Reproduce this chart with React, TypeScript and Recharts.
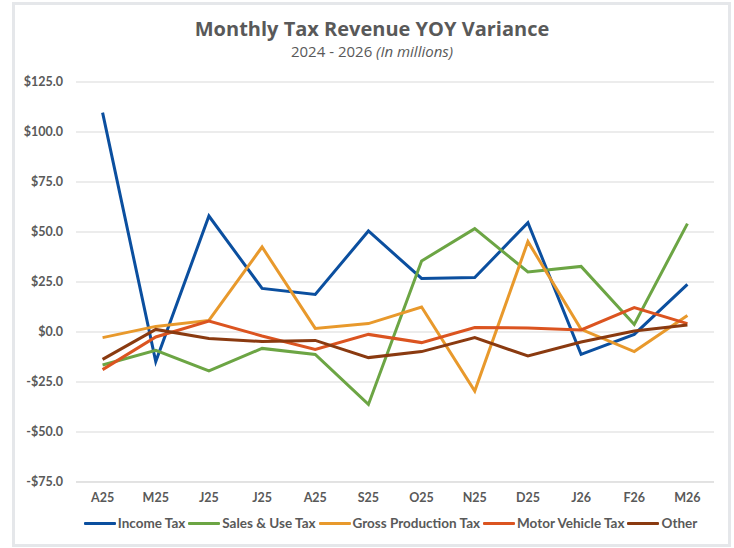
import React from "react";
import { LineChart, Line, XAxis, YAxis, CartesianGrid } from "recharts";

const months = ["A25", "M25", "J25", "J25", "A25", "S25", "O25", "N25", "D25", "J26", "F26", "M26"];
const incomeTax = [109.7, -14.8, 58.0, 21.8, 18.8, 50.5, 26.8, 27.2, 54.7, -11.2, -1.2, 23.8];
const salesUseTax = [-16.5, -9.2, -19.5, -8.2, -11.2, -36.2, 35.5, 51.7, 30.0, 32.8, 3.8, 54.2];
const grossProductionTax = [-2.8, 2.8, 5.8, 42.5, 1.8, 4.2, 12.5, -29.5, 45.2, 1.3, -9.8, 8.3];
const motorVehicleTax = [-18.8, -2.5, 5.5, -2.0, -8.7, -1.2, -5.3, 2.2, 2.0, 1.0, 12.2, 4.2];
const other = [-13.7, 1.3, -3.2, -4.8, -4.2, -12.8, -9.8, -2.8, -12.0, -5.0, 0.5, 3.5];
const yTicks = [-75, -50, -25, 0, 25, 50, 75, 100, 125];

const series = [
  { key: "income", name: "Income Tax", color: "#0b4f9f", values: incomeTax },
  { key: "sales", name: "Sales & Use Tax", color: "#6ca544", values: salesUseTax },
  { key: "gross", name: "Gross Production Tax", color: "#e8992c", values: grossProductionTax },
  { key: "motor", name: "Motor Vehicle Tax", color: "#db5420", values: motorVehicleTax },
  { key: "other", name: "Other", color: "#8a3a10", values: other },
];

const data = months.map((m, i) => {
  const row: any = { idx: i, month: m };
  series.forEach((s) => (row[s.key] = s.values[i]));
  return row;
});

const fmt = (v: number) => (v < 0 ? `-$${Math.abs(v).toFixed(1)}` : `$${v.toFixed(1)}`);

const tickFont = { fontFamily: "Lato, 'Noto Sans', sans-serif", fontSize: 12.5, fontWeight: 700, fill: "#595959" };

export default function App() {
  return (
    <div style={{ position: "absolute", left: 0, top: 0, width: 734, height: 548, background: "#fff", overflow: "hidden" }}>
      <div
        style={{
          position: "absolute",
          left: 12,
          top: 2,
          width: 713,
          height: 539,
          border: "3px solid #e5e7ea",
        }}
      />
      <div
        style={{
          position: "absolute",
          left: 0,
          top: 16,
          width: 744,
          textAlign: "center",
          fontFamily: "'Open Sans', sans-serif",
          fontWeight: 700,
          fontSize: 20,
          color: "#595959",
          lineHeight: "26px",
        }}
      >
        Monthly Tax Revenue YOY Variance
      </div>
      <div
        style={{
          position: "absolute",
          left: 0,
          top: 41,
          width: 744,
          textAlign: "center",
          fontFamily: "'Open Sans', sans-serif",
          fontSize: 15,
          color: "#595959",
          lineHeight: "20px",
        }}
      >
        2024 - 2026 <span style={{ fontStyle: "italic" }}>(In millions)</span>
      </div>
      <div style={{ position: "absolute", left: 0, top: 0 }}>
        <LineChart width={734} height={548} data={data} margin={{ top: 82, right: 20, bottom: 36, left: 0 }}>
          <CartesianGrid horizontal={true} vertical={false} stroke="#d9d9d9" strokeWidth={1} />
          <XAxis
            dataKey="idx"
            type="category"
            scale="band"
            tickFormatter={(i: number) => months[i]}
            tick={tickFont}
            axisLine={{ stroke: "#d9d9d9" }}
            tickLine={false}
            tickMargin={5}
            interval={0}
            height={30}
          />
          <YAxis
            type="number"
            domain={[-75, 125]}
            ticks={yTicks}
            tickFormatter={fmt}
            tick={tickFont}
            axisLine={false}
            tickLine={false}
            width={76}
            tickSize={6}
            tickMargin={7}
            interval={0}
          />
          {series.map((s) => (
            <Line
              key={s.key}
              dataKey={s.key}
              name={s.name}
              stroke={s.color}
              strokeWidth={3}
              dot={false}
              activeDot={false}
              type="linear"
              isAnimationActive={false}
            />
          ))}
        </LineChart>
      </div>
      <div
        style={{
          position: "absolute",
          left: 0,
          top: 513,
          width: 784,
          display: "flex",
          justifyContent: "center",
          alignItems: "center",
          fontFamily: "Lato, 'Noto Sans', sans-serif",
          fontSize: 13.5,
          fontWeight: 700,
          color: "#595959",
          lineHeight: "20px",
        }}
      >
        {series.map((s) => (
          <div key={s.key} style={{ display: "flex", alignItems: "center", marginRight: 3 }}>
            <div style={{ width: 32, height: 3, background: s.color, marginRight: 2, borderRadius: 1 }} />
            <span>{s.name}</span>
          </div>
        ))}
      </div>
    </div>
  );
}
